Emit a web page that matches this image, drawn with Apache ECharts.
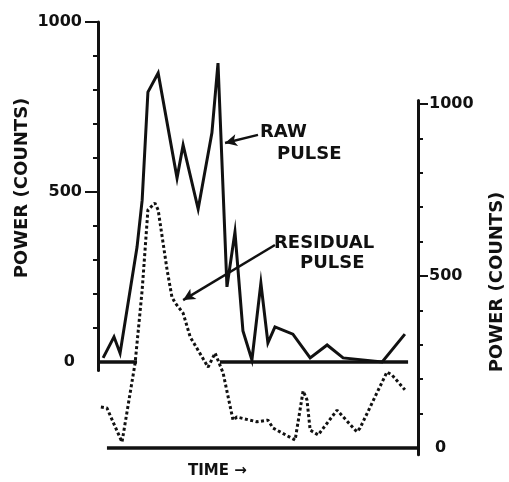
<!DOCTYPE html>
<html><head><meta charset="utf-8">
<script src="https://cdn.jsdelivr.net/npm/echarts@6/dist/echarts.min.js"></script>
<style>html,body{margin:0;padding:0;background:#fff}#c{width:509px;height:482px}</style>
</head><body><div id="c"></div>
<script>
// Time axis in arbitrary units (0..100)
const rawTime = [1.6,5.0,6.9,12.2,13.8,15.6,18.8,24.7,26.6,31.3,35.6,37.5,40.3,42.8,45.3,48.1,50.9,53.1,55.3,60.9,66.3,71.6,76.6,88.8,95.9];
const rawPower = [12,74,26,338,476,794,850,541,638,450,674,879,221,382,91,6,232,56,103,82,12,50,12,0,82];
const residualTime = [0.9,2.8,7.5,11.6,13.8,15.6,17.8,18.8,21.6,23.1,24.1,26.6,28.8,34.4,36.6,39.1,42.2,43.4,49.7,53.1,54.7,61.6,64.1,65.3,66.3,68.8,74.7,80.9,81.9,90.3,91.9,95.9];
const residualPower = [119,116,17,247,459,692,712,692,517,439,422,392,323,235,276,218,81,90,76,81,58,23,166,140,52,38,110,47,58,221,212,169];
const majorTicks = [500, 1000];
const minorTicks = [100, 200, 300, 400, 600, 700, 800, 900];
const zeroTick = [0];
// baseline segments [startTime, endTime] at power 0
const rawBaseline = [[0, 12.2], [38.1, 96.9]];
const residualBaseline = [[2.8, 100]];
// annotation arrows [fromTime, fromPower, toTime, toPower]
const rawArrow = [50.0, 668, 39.7, 644];
const residualArrow = [55.3, 590, 26.6, 430];

const INK = '#111';
const FONT = 'DejaVu Sans';

function zip(a, b) { return a.map((v, i) => [v, b[i]]); }
function segs(list) { return list.map(s => [{coord: [s[0], 0]}, {coord: [s[1], 0]}]); }
function arrow(a) { return [{coord: [a[0], a[1]]}, {coord: [a[2], a[3]]}]; }

const G0 = {left: 98, right: 91, top: 22, height: 348.5};
const G1 = {left: 98, right: 91, top: 100.56, height: 354.3};

function yAx(grid, pos, min, max, opts) {
  return Object.assign({
    type: 'value', gridIndex: grid, position: pos, min: min, max: max,
    splitLine: {show: false},
    axisLine: {show: false, onZero: false},
    axisTick: {show: false},
    axisLabel: {show: false}
  }, opts);
}
const labelStyle = {color: INK, fontFamily: FONT, fontWeight: 'bold', fontSize: 16, formatter: v => String(v)};

const option = {
  backgroundColor: '#fff',
  animation: false,
  grid: [G0, G1],
  xAxis: [
    {type: 'value', gridIndex: 0, min: 0, max: 100, show: false},
    {type: 'value', gridIndex: 1, min: 0, max: 100, show: false}
  ],
  yAxis: [
    yAx(0, 'left', -25, 1000, {
      axisLine: {show: true, onZero: false, lineStyle: {color: INK, width: 3}},
      axisTick: {show: true, customValues: minorTicks, length: 5, lineStyle: {color: INK, width: 2}}
    }),
    yAx(0, 'left', -25, 1000, {
      axisTick: {show: true, customValues: majorTicks, length: 13, lineStyle: {color: INK, width: 2}},
      axisLabel: Object.assign({show: true, customValues: majorTicks, margin: 16}, labelStyle)
    }),
    yAx(0, 'left', -25, 1000, {
      axisLabel: Object.assign({show: true, customValues: zeroTick, margin: 23}, labelStyle)
    }),
    yAx(1, 'right', -20, 1010, {
      axisLine: {show: true, onZero: false, lineStyle: {color: INK, width: 3}},
      axisTick: {show: true, customValues: minorTicks, length: 5, lineStyle: {color: INK, width: 2}}
    }),
    yAx(1, 'right', -20, 1010, {
      axisTick: {show: true, customValues: majorTicks, length: 10, lineStyle: {color: INK, width: 2}},
      axisLabel: Object.assign({show: true, customValues: majorTicks, margin: 11}, labelStyle)
    }),
    yAx(1, 'right', -20, 1010, {
      axisLabel: Object.assign({show: true, customValues: zeroTick, margin: 17}, labelStyle)
    })
  ],
  series: [
    {
      name: 'Raw pulse', type: 'line', xAxisIndex: 0, yAxisIndex: 0,
      data: zip(rawTime, rawPower), symbol: 'none', clip: false,
      lineStyle: {color: INK, width: 3, join: 'miter'},
      markLine: {
        silent: true, animation: false, symbol: ['none', 'none'],
        label: {show: false},
        lineStyle: {color: INK, width: 3.5, type: 'solid'},
        data: segs(rawBaseline)
      }
    },
    {
      name: 'Raw arrow', type: 'line', xAxisIndex: 0, yAxisIndex: 0, data: [],
      markLine: {
        silent: true, animation: false, symbol: ['none', 'arrow'], symbolSize: [9, 12],
        label: {show: false},
        lineStyle: {color: INK, width: 2.5, type: 'solid'},
        data: [arrow(rawArrow)]
      }
    },
    {
      name: 'Residual pulse', type: 'line', xAxisIndex: 1, yAxisIndex: 3,
      data: zip(residualTime, residualPower), symbol: 'none', clip: false,
      lineStyle: {color: INK, width: 3, type: [3, 2.5], cap: 'butt'},
      markLine: {
        silent: true, animation: false, symbol: ['none', 'none'],
        label: {show: false},
        lineStyle: {color: INK, width: 3.5, type: 'solid'},
        data: segs(residualBaseline)
      }
    },
    {
      name: 'Residual arrow', type: 'line', xAxisIndex: 1, yAxisIndex: 3, data: [],
      markLine: {
        silent: true, animation: false, symbol: ['none', 'arrow'], symbolSize: [9, 12],
        label: {show: false},
        lineStyle: {color: INK, width: 2.5, type: 'solid'},
        data: [arrow(residualArrow)]
      }
    }
  ],
  graphic: [
    {type: 'text', x: 22, y: 188, rotation: Math.PI / 2,
     style: {text: 'POWER (COUNTS)', fill: INK, font: 'bold 18px "DejaVu Sans"', textAlign: 'center', textVerticalAlign: 'middle'}},
    {type: 'text', x: 497, y: 282, rotation: Math.PI / 2,
     style: {text: 'POWER (COUNTS)', fill: INK, font: 'bold 18px "DejaVu Sans"', textAlign: 'center', textVerticalAlign: 'middle'}},
    {type: 'text', x: 260, y: 132,
     style: {text: 'RAW', fill: INK, font: 'bold 18px "DejaVu Sans"', textAlign: 'left', textVerticalAlign: 'middle'}},
    {type: 'text', x: 277, y: 154,
     style: {text: 'PULSE', fill: INK, font: 'bold 18px "DejaVu Sans"', textAlign: 'left', textVerticalAlign: 'middle'}},
    {type: 'text', x: 274, y: 243,
     style: {text: 'RESIDUAL', fill: INK, font: 'bold 18px "DejaVu Sans"', textAlign: 'left', textVerticalAlign: 'middle'}},
    {type: 'text', x: 300, y: 263,
     style: {text: 'PULSE', fill: INK, font: 'bold 18px "DejaVu Sans"', textAlign: 'left', textVerticalAlign: 'middle'}},
    {type: 'text', x: 188, y: 471,
     style: {text: 'TIME →', fill: INK, font: 'bold 15px "DejaVu Sans"', textAlign: 'left', textVerticalAlign: 'middle'}}
  ]
};

const chart = echarts.init(document.getElementById('c'), null, {renderer: 'canvas'});
chart.setOption(option);
</script>
</body></html>
